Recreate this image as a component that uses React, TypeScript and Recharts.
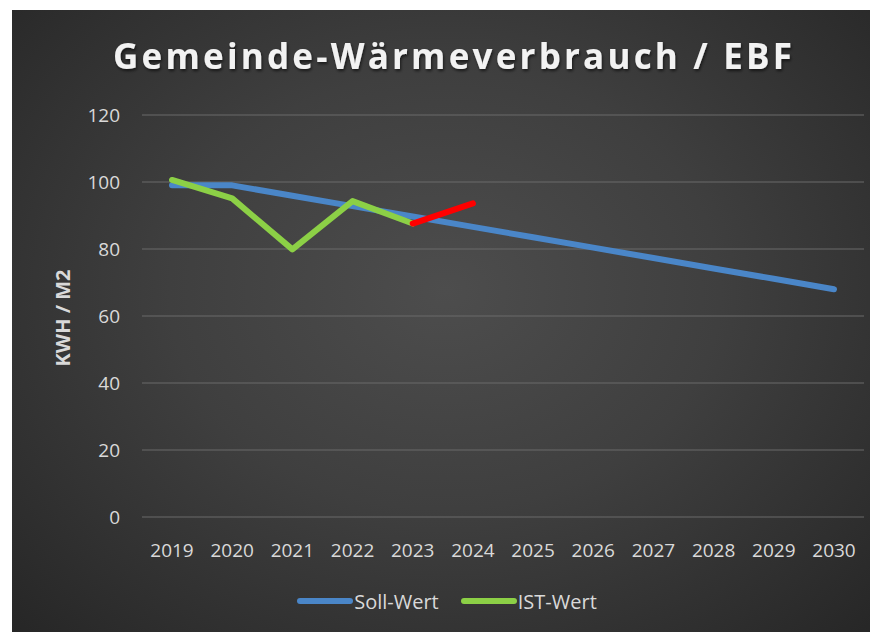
import React from 'react';
import { LineChart, Line, XAxis, YAxis, CartesianGrid, Legend, Label } from 'recharts';

const years = ['2019', '2020', '2021', '2022', '2023', '2024', '2025', '2026', '2027', '2028', '2029', '2030'];
const sollWert = [99, 99, 95.9, 92.8, 89.7, 86.6, 83.5, 80.4, 77.3, 74.2, 71.1, 68];
const istWert: (number | null)[] = [100.6, 95.1, 79.9, 94.3, 87.6, null, null, null, null, null, null, null];
const istTrend: (number | null)[] = [null, null, null, null, 87.6, 93.6, null, null, null, null, null, null];
const yTicks = [0, 20, 40, 60, 80, 100, 120];

const data = years.map((y, i) => ({ year: y, soll: sollWert[i], ist: istWert[i], trend: istTrend[i] }));

const BLUE = '#4a86c8';
const GREEN = '#8cd046';
const RED = '#ff0000';
const TEXT = '#d9d9d9';
const FONT = '"Open Sans", sans-serif';

const legendItems = [
  { label: 'Soll-Wert', color: BLUE },
  { label: 'IST-Wert', color: GREEN },
];

const renderLegend = () => (
  <div style={{ display: 'flex', justifyContent: 'center', alignItems: 'center', height: 30, paddingLeft: 26, fontFamily: FONT, fontSize: 20, color: TEXT }}>
    {legendItems.map((it) => (
      <div key={it.label} style={{ display: 'flex', alignItems: 'center', marginRight: 22 }}>
        <div style={{ width: 56, height: 6, borderRadius: 3, background: it.color }} />
        <span style={{ marginLeft: 1 }}>{it.label}</span>
      </div>
    ))}
  </div>
);

const YLabel = (props: any) => {
  const vb = props.viewBox || { x: 0, y: 0, width: 0, height: 0 };
  const cx = vb.x + 30;
  const cy = vb.y + vb.height / 2 + 2;
  return (
    <text x={cx} y={cy} transform={`rotate(-90 ${cx} ${cy})`} textAnchor="middle" dominantBaseline="central" fill={TEXT} fontFamily={FONT} fontWeight={700} fontSize={20}>
      KWH / M2
    </text>
  );
};

export default function App() {
  return (
    <div style={{ position: 'relative', top: 2, left: 4, width: 866, height: 624, overflow: 'hidden', background: 'radial-gradient(ellipse at 50% 45%, #4d4d4d 0%, #3f3f3f 45%, #262626 100%)' }}>
      <svg width={866} height={80} style={{ position: 'absolute', left: 0, top: 0 }}>
        <defs>
          <filter id="ts" x="-5%" y="-30%" width="110%" height="160%">
            <feDropShadow dx="1" dy="2" stdDeviation="1.5" floodColor="#000" floodOpacity="0.6" />
          </filter>
        </defs>
        <text x={101} y={59} textLength={679} lengthAdjust="spacing" fill="#f2f2f2" fontFamily={FONT} fontWeight={700} fontSize={35} filter="url(#ts)">
          Gemeinde-Wärmeverbrauch / EBF
        </text>
      </svg>
      <LineChart width={866} height={624} data={data} margin={{ top: 105, right: 14, bottom: 57, left: 20 }}>
        <CartesianGrid horizontal vertical={false} stroke="#6a6a6a" strokeWidth={1} />
        <XAxis dataKey="year" axisLine={false} tickLine={false} tickSize={0} tickMargin={27} padding={{ left: 30, right: 30 }} tick={{ fill: TEXT, fontFamily: FONT, fontSize: 19 }} interval={0} height={30} />
        <YAxis domain={[0, 120]} ticks={yTicks} axisLine={false} tickLine={false} tickSize={0} tickMargin={22} width={110} tick={{ fill: TEXT, fontFamily: FONT, fontSize: 19 }}>
          <Label content={<YLabel />} />
        </YAxis>
        <Legend content={renderLegend} verticalAlign="bottom" height={30} wrapperStyle={{ left: 0, width: 866, top: 576 }} />
        <Line type="linear" dataKey="soll" name="Soll-Wert" stroke={BLUE} strokeWidth={6} strokeLinecap="round" strokeLinejoin="round" dot={false} activeDot={false} isAnimationActive={false} />
        <Line type="linear" dataKey="ist" name="IST-Wert" stroke={GREEN} strokeWidth={6} strokeLinecap="round" strokeLinejoin="round" dot={false} activeDot={false} isAnimationActive={false} />
        <Line type="linear" dataKey="trend" name="Trend" legendType="none" stroke={RED} strokeWidth={6} strokeLinecap="round" strokeLinejoin="round" dot={false} activeDot={false} isAnimationActive={false} />
      </LineChart>
    </div>
  );
}
